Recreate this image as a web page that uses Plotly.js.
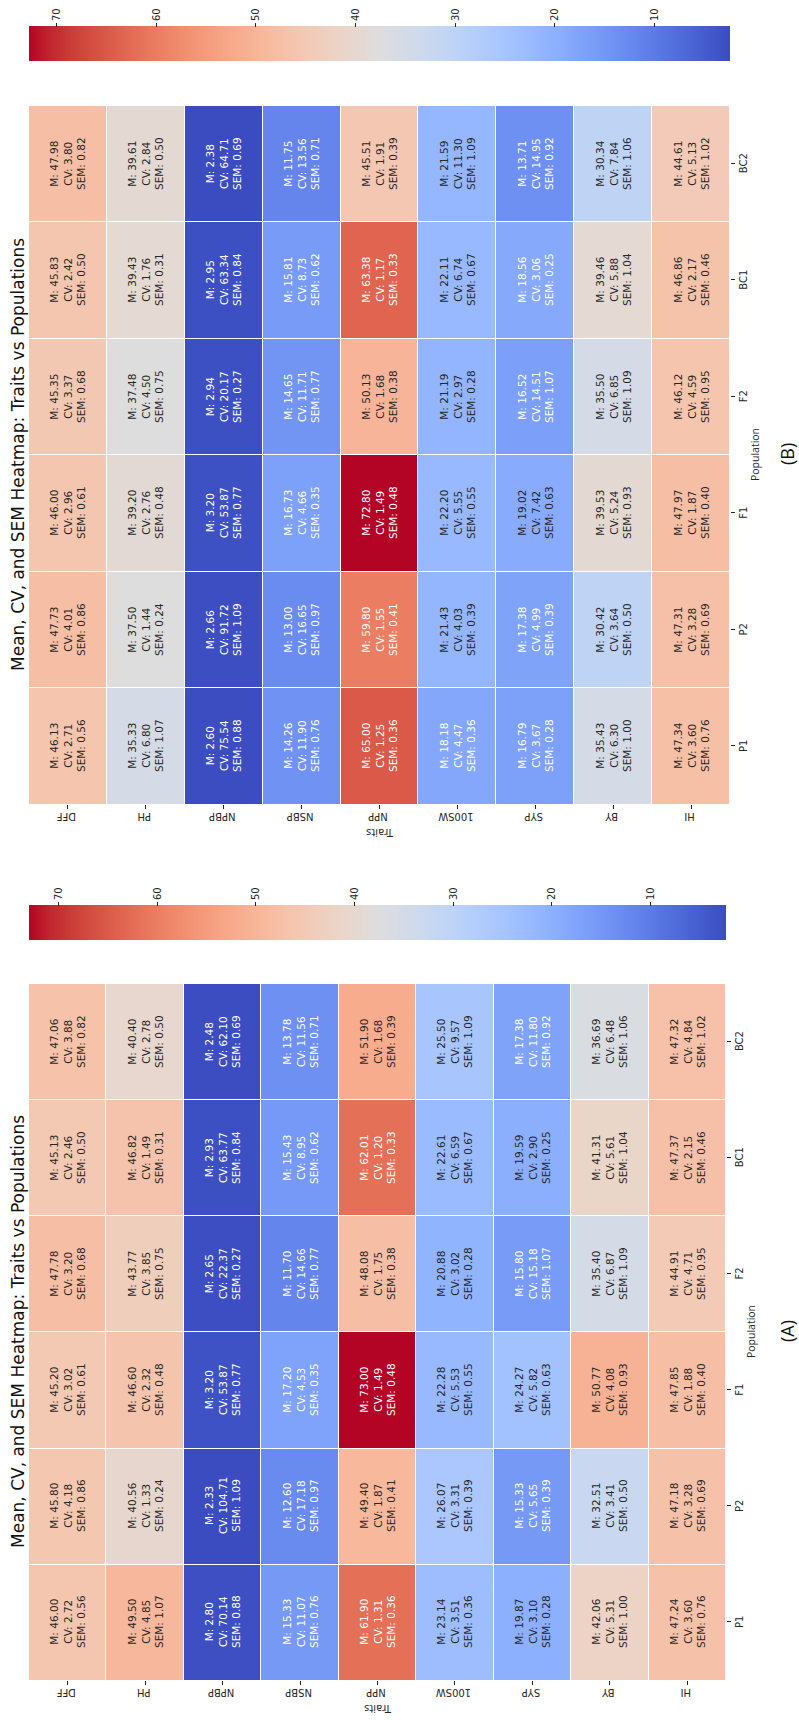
<!DOCTYPE html>
<html>
<head>
<meta charset="utf-8">
<script src="https://cdn.plot.ly/plotly-3.0.1.min.js"></script>
<style>
  html, body { margin: 0; padding: 0; background: #ffffff; }
  #wrap { position: relative; width: 799px; height: 1720px; overflow: hidden; background: #ffffff; }
  #plot { position: absolute; left: 0; top: 0; width: 1720px; height: 799px;
          transform-origin: 0 0; transform: translateY(1720px) rotate(-90deg); }
</style>
</head>
<body>
<div id="wrap"><div id="plot"></div></div>
<script>
// ---------------- data ----------------
const traits = ['DFF', 'PH', 'NPBP', 'NSBP', 'NPP', '100SW', 'SYP', 'BY', 'HI'];
const populations = ['P1', 'P2', 'F1', 'F2', 'BC1', 'BC2'];
const chartTitle = 'Mean, CV, and SEM Heatmap: Traits vs Populations';
const panelLabels = ['(A)', '(B)'];

// Panel (A): rows = traits, columns = populations
const meanA = [
  [46.00, 45.80, 45.20, 47.78, 45.13, 47.06],
  [49.50, 40.56, 46.60, 43.77, 46.82, 40.40],
  [2.80, 2.33, 3.20, 2.65, 2.93, 2.48],
  [15.33, 12.60, 17.20, 11.70, 15.43, 13.78],
  [61.90, 49.40, 73.00, 48.08, 62.01, 51.90],
  [23.14, 26.07, 22.28, 20.88, 22.61, 25.50],
  [19.87, 15.33, 24.27, 15.80, 19.59, 17.38],
  [42.06, 32.51, 50.77, 35.40, 41.31, 36.69],
  [47.24, 47.18, 47.85, 44.91, 47.37, 47.32]
];
const cvA = [
  [2.72, 4.18, 3.02, 3.20, 2.46, 3.88],
  [4.85, 1.33, 2.32, 3.85, 1.49, 2.78],
  [70.14, 104.71, 53.87, 22.37, 63.77, 62.10],
  [11.07, 17.18, 4.53, 14.66, 8.95, 11.56],
  [1.31, 1.87, 1.49, 1.75, 1.20, 1.68],
  [3.51, 3.31, 5.53, 3.02, 6.59, 9.57],
  [3.10, 5.65, 5.82, 15.18, 2.90, 11.80],
  [5.31, 3.41, 4.08, 6.87, 5.61, 6.48],
  [3.60, 3.28, 1.88, 4.71, 2.15, 4.84]
];
const semA = [
  [0.56, 0.86, 0.61, 0.68, 0.50, 0.82],
  [1.07, 0.24, 0.48, 0.75, 0.31, 0.50],
  [0.88, 1.09, 0.77, 0.27, 0.84, 0.69],
  [0.76, 0.97, 0.35, 0.77, 0.62, 0.71],
  [0.36, 0.41, 0.48, 0.38, 0.33, 0.39],
  [0.36, 0.39, 0.55, 0.28, 0.67, 1.09],
  [0.28, 0.39, 0.63, 1.07, 0.25, 0.92],
  [1.00, 0.50, 0.93, 1.09, 1.04, 1.06],
  [0.76, 0.69, 0.40, 0.95, 0.46, 1.02]
];

// Panel (B)
const meanB = [
  [46.13, 47.73, 46.00, 45.35, 45.83, 47.98],
  [35.33, 37.50, 39.20, 37.48, 39.43, 39.61],
  [2.60, 2.66, 3.20, 2.94, 2.95, 2.38],
  [14.26, 13.00, 16.73, 14.65, 15.81, 11.75],
  [65.00, 59.80, 72.80, 50.13, 63.38, 45.51],
  [18.18, 21.43, 22.20, 21.19, 22.11, 21.59],
  [16.79, 17.38, 19.02, 16.52, 18.56, 13.71],
  [35.43, 30.42, 39.53, 35.50, 39.46, 30.34],
  [47.34, 47.31, 47.97, 46.12, 46.86, 44.61]
];
const cvB = [
  [2.71, 4.01, 2.96, 3.37, 2.42, 3.80],
  [6.80, 1.44, 2.76, 4.50, 1.76, 2.84],
  [75.54, 91.72, 53.87, 20.17, 63.34, 64.71],
  [11.90, 16.65, 4.66, 11.71, 8.73, 13.56],
  [1.25, 1.55, 1.49, 1.68, 1.17, 1.91],
  [4.47, 4.03, 5.55, 2.97, 6.74, 11.30],
  [3.67, 4.99, 7.42, 14.51, 3.06, 14.95],
  [6.30, 3.64, 5.24, 6.85, 5.88, 7.84],
  [3.60, 3.28, 1.87, 4.59, 2.17, 5.13]
];
const semB = [
  [0.56, 0.86, 0.61, 0.68, 0.50, 0.82],
  [1.07, 0.24, 0.48, 0.75, 0.31, 0.50],
  [0.88, 1.09, 0.77, 0.27, 0.84, 0.69],
  [0.76, 0.97, 0.35, 0.77, 0.62, 0.71],
  [0.36, 0.41, 0.48, 0.38, 0.33, 0.39],
  [0.36, 0.39, 0.55, 0.28, 0.67, 1.09],
  [0.28, 0.39, 0.63, 1.07, 0.25, 0.92],
  [1.00, 0.50, 0.93, 1.09, 1.04, 1.06],
  [0.76, 0.69, 0.40, 0.95, 0.46, 1.02]
];

// ---------------- style ----------------
// coolwarm diverging colormap (position, r, g, b)
const coolwarmStops = [
  [0.0, 59, 76, 192], [0.03125, 68, 90, 204], [0.0625, 77, 104, 215], [0.09375, 87, 117, 225],
  [0.125, 98, 130, 234], [0.15625, 108, 142, 241], [0.1875, 119, 154, 247], [0.21875, 130, 165, 251],
  [0.25, 141, 176, 254], [0.28125, 152, 185, 255], [0.3125, 163, 194, 255], [0.34375, 174, 201, 253],
  [0.375, 184, 208, 249], [0.40625, 194, 213, 244], [0.4375, 204, 217, 238], [0.46875, 213, 219, 230],
  [0.5, 221, 221, 221], [0.53125, 229, 216, 209], [0.5625, 236, 211, 197], [0.59375, 241, 204, 185],
  [0.625, 245, 196, 173], [0.65625, 247, 187, 160], [0.6875, 247, 177, 148], [0.71875, 247, 166, 135],
  [0.75, 244, 154, 123], [0.78125, 241, 141, 111], [0.8125, 236, 127, 99], [0.84375, 229, 112, 88],
  [0.875, 222, 96, 77], [0.90625, 213, 80, 66], [0.9375, 203, 62, 56], [0.96875, 192, 40, 47],
  [1.0, 180, 4, 38]
];
const colorscale = coolwarmStops.map(s => [s[0], 'rgb(' + s[1] + ',' + s[2] + ',' + s[3] + ')']);

function cmap(t) {
  t = Math.max(0, Math.min(1, t));
  for (let k = 1; k < coolwarmStops.length; k++) {
    const a = coolwarmStops[k - 1], b = coolwarmStops[k];
    if (t <= b[0]) {
      const f = (t - a[0]) / (b[0] - a[0]);
      return [a[1] + f * (b[1] - a[1]), a[2] + f * (b[2] - a[2]), a[3] + f * (b[3] - a[3])];
    }
  }
  const l = coolwarmStops[coolwarmStops.length - 1];
  return [l[1], l[2], l[3]];
}
function luminance(rgb) {
  const lin = rgb.map(v => { const c = v / 255; return c <= 0.03928 ? c / 12.92 : Math.pow((c + 0.055) / 1.055, 2.4); });
  return 0.2126 * lin[0] + 0.7152 * lin[1] + 0.0722 * lin[2];
}

const W = 1720, H = 799;
const DARK = '#262626';
const FONT = 'DejaVu Sans, sans-serif';

const panels = [
  { mean: meanA, cv: cvA, sem: semA, xa: 'x', ya: 'y', x0: 40, x1: 737, y0: 29, y1: 726, cbx: 780, label: panelLabels[0] },
  { mean: meanB, cv: cvB, sem: semB, xa: 'x2', ya: 'y2', x0: 916, x1: 1615, y0: 29, y1: 730, cbx: 1659, label: panelLabels[1] }
];

const data = [];
const annotations = [];
const layout = {
  width: W, height: H,
  margin: { l: 0, r: 0, t: 0, b: 0 },
  paper_bgcolor: '#ffffff', plot_bgcolor: '#ffffff',
  font: { family: FONT, color: DARK, size: 10 },
  showlegend: false,
  annotations: annotations
};

panels.forEach((p, idx) => {
  const flat = p.mean.flat();
  const zmin = Math.min(...flat), zmax = Math.max(...flat);
  data.push({
    type: 'heatmap',
    x: populations, y: traits, z: p.mean,
    xaxis: p.xa, yaxis: p.ya,
    zmin: zmin, zmax: zmax,
    colorscale: colorscale,
    xgap: 1, ygap: 1,
    hoverinfo: 'skip',
    colorbar: {
      x: p.cbx / W, xanchor: 'left', xpad: 0,
      y: 1 - ((p.y0 + p.y1) / 2) / H, yanchor: 'middle', ypad: 0,
      len: p.y1 - p.y0, lenmode: 'pixels',
      thickness: 35, thicknessmode: 'pixels',
      outlinewidth: 0,
      ticks: 'outside', ticklen: 3.5, tickwidth: 1, tickcolor: DARK,
      tick0: 0, dtick: 10,
      tickfont: { family: FONT, size: 10, color: DARK }
    }
  });

  const sfx = idx === 0 ? '' : '2';
  layout['xaxis' + sfx] = {
    domain: [p.x0 / W, p.x1 / W], anchor: 'y' + sfx,
    type: 'category', categoryorder: 'array', categoryarray: populations,
    ticks: 'outside', ticklen: 3.5, tickwidth: 1, tickcolor: DARK,
    tickfont: { family: FONT, size: 10, color: DARK },
    showgrid: false, zeroline: false, showline: false, fixedrange: true,
    title: { text: 'Population', standoff: 4, font: { family: 'Open Sans, sans-serif', size: 10.5, color: DARK } }
  };
  layout['yaxis' + sfx] = {
    domain: [1 - p.y1 / H, 1 - p.y0 / H], anchor: 'x' + sfx,
    type: 'category', categoryorder: 'array', categoryarray: traits, autorange: 'reversed',
    ticks: 'outside', ticklen: 3.5, tickwidth: 1, tickcolor: DARK, tickangle: -90,
    tickfont: { family: FONT, size: 10, color: DARK },
    showgrid: false, zeroline: false, showline: false, fixedrange: true,
    title: { text: 'Traits', standoff: 4, font: { family: FONT, size: 10, color: DARK } }
  };

  // cell annotations
  for (let i = 0; i < traits.length; i++) {
    for (let j = 0; j < populations.length; j++) {
      const m = p.mean[i][j];
      const lum = luminance(cmap((m - zmin) / (zmax - zmin)));
      annotations.push({
        xref: p.xa, yref: p.ya, x: populations[j], y: traits[i],
        text: 'M: ' + m.toFixed(2) + '<br>CV: ' + p.cv[i][j].toFixed(2) + '<br>SEM: ' + p.sem[i][j].toFixed(2),
        showarrow: false, align: 'center',
        font: { family: FONT, size: 10.5, color: lum > 0.408 ? DARK : '#ffffff' }
      });
    }
  }

  // panel title
  annotations.push({
    xref: 'paper', yref: 'paper',
    x: ((p.x0 + p.x1) / 2) / W, y: 1 - 18 / H, xanchor: 'center', yanchor: 'middle',
    text: chartTitle, showarrow: false,
    font: { family: FONT, size: 17, color: '#111111' }
  });
  // panel label
  annotations.push({
    xref: 'paper', yref: 'paper',
    x: ((p.x0 + p.x1) / 2) / W, y: 1 - 787 / H, xanchor: 'center', yanchor: 'middle',
    text: p.label, showarrow: false,
    font: { family: 'Open Sans, sans-serif', size: 18, color: '#111111' }
  });
});

Plotly.newPlot('plot', data, layout, { staticPlot: true, displayModeBar: false });
</script>
</body>
</html>
